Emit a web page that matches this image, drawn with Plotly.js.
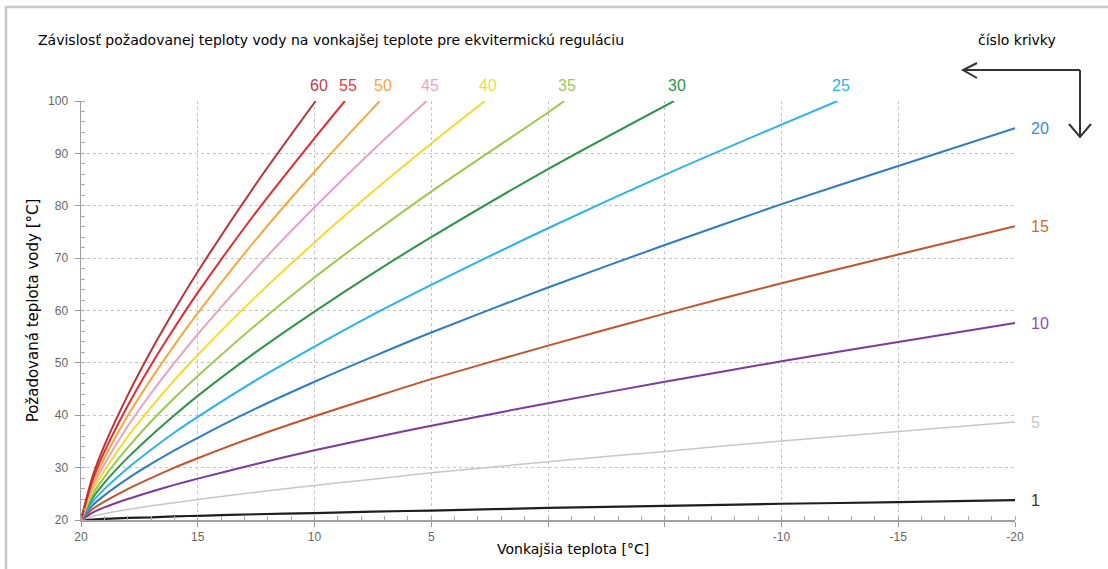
<!DOCTYPE html>
<html>
<head>
<meta charset="utf-8">
<script src="https://cdn.plot.ly/plotly-3.0.1.min.js"></script>
<style>
html,body{margin:0;padding:0;background:#fff;}
#chart{width:1108px;height:569px;}
</style>
</head>
<body>
<div id="chart"></div>
<script>
// ---- data ----
const curveNumbers = [1, 5, 10, 15, 20, 25, 30, 35, 40, 45, 50, 55, 60];
const outdoorTemp = [20, 19.5, 19, 18, 17, 16, 15, 12.5, 10, 7.5, 5, 0, -5, -10, -15, -20];
// outdoor temperature where a curve reaches 100 °C (null = curve ends at -20)
const crossAt100 = [null, null, null, null, null, -12.4, -5.4, -0.7, 2.7, 5.2, 7.2, 8.7, 9.95];

const water_1  = [20, 20.1, 20.2, 20.4, 20.5, 20.7, 20.8, 21.1, 21.3, 21.6, 21.8, 22.3, 22.7, 23.1, 23.4, 23.8];
const water_5  = [20, 20.7, 21.2, 22.0, 22.7, 23.3, 23.9, 25.3, 26.6, 27.8, 29.0, 31.1, 33.1, 35.1, 36.9, 38.7];
const water_10 = [20, 21.4, 22.4, 24.0, 25.4, 26.7, 27.9, 30.7, 33.3, 35.7, 38.0, 42.3, 46.4, 50.3, 54.0, 57.6];
const water_15 = [20, 22.1, 23.5, 25.9, 28.0, 30.0, 31.8, 36.0, 39.8, 43.4, 46.9, 53.3, 59.4, 65.2, 70.7, 76.1];
const water_20 = [20, 22.8, 24.7, 27.9, 30.7, 33.3, 35.7, 41.3, 46.4, 51.2, 55.8, 64.4, 72.5, 80.3, 87.6, 94.8];
const water_25 = [20, 23.5, 25.9, 29.9, 33.4, 36.7, 39.7, 46.7, 53.1, 59.2, 64.9, 75.7, 85.9, 95.5, 100];
const water_30 = [20, 24.2, 27.1, 31.9, 36.1, 40.0, 43.7, 52.1, 59.8, 67.1, 74.0, 87.0, 100];
const water_35 = [20, 24.9, 28.2, 33.8, 38.8, 43.3, 47.5, 57.3, 66.3, 74.7, 82.7, 97.8, 100];
const water_40 = [20, 25.6, 29.4, 35.9, 41.5, 46.7, 51.5, 62.7, 73.0, 82.7, 91.9, 100];
const water_45 = [20, 26.3, 30.6, 37.9, 44.2, 50.0, 55.5, 68.1, 79.7, 90.6, 100];
const water_50 = [20, 27.0, 31.8, 39.9, 46.9, 53.4, 59.5, 73.6, 86.5, 98.6, 100];
const water_55 = [20, 27.7, 33.0, 41.8, 49.6, 56.7, 63.4, 78.8, 92.9, 100];
const water_60 = [20, 28.4, 34.2, 43.8, 52.3, 60.1, 67.4, 84.2, 100];

const waterSeries = [water_1, water_5, water_10, water_15, water_20, water_25, water_30,
                     water_35, water_40, water_45, water_50, water_55, water_60];

const xTickVals  = [20, 15, 10, 5, 0, -5, -10, -15, -20];
const xTickText  = ['20', '15', '10', '5', '', '', '-10', '-15', '-20'];
const yTickVals  = [20, 30, 40, 50, 60, 70, 80, 90, 100];

// ---- styles ----
const lineColors  = ['#1e1e1e', '#c6c6c6', '#7b3a9c', '#c4532b', '#2f7cc4', '#2ab3ea', '#2f9448',
                     '#9cc84a', '#f2dc2a', '#e6a2c6', '#f6a83a', '#e42a30', '#b8333a'];
const labelColors = ['#333333', '#c8c8c8', '#8a4fb0', '#d2692a', '#3a8ad0', '#2ab3ea', '#2f9448',
                     '#a6c850', '#f2dc40', '#e8a6c8', '#f5a83c', '#e03a4a', '#b8404f'];
const lineWidths  = [2.2, 1.5, 2, 2, 2, 2, 2, 2, 2, 2, 2, 2, 2];

const FONT = '"DejaVu Sans", sans-serif';
const TICKFONT = '"Liberation Sans", Arial, sans-serif';

// pixel -> paper helpers for decorations
const L = 81, R = 1015, T = 101, B = 520;
const px = v => (v - L) / (R - L);
const py = v => (B - v) / (B - T);

const traces = [];
const annotations = [];
curveNumbers.forEach((n, i) => {
  const ys = waterSeries[i];
  let xs;
  if (crossAt100[i] === null) {
    xs = outdoorTemp.slice(0, ys.length);
  } else {
    xs = outdoorTemp.slice(0, ys.length - 1).concat([crossAt100[i]]);
  }
  traces.push({
    x: xs, y: ys, type: 'scatter', mode: 'lines', name: String(n),
    line: {color: lineColors[i], width: lineWidths[i], shape: 'spline', smoothing: 0.8},
    hoverinfo: 'x+y+name'
  });
  const lx = xs[xs.length - 1], ly = ys[ys.length - 1];
  if (crossAt100[i] === null) {
    annotations.push({x: lx, y: ly, xref: 'x', yref: 'y', text: String(n), showarrow: false,
      xanchor: 'left', yanchor: 'middle', xshift: 14,
      font: {family: TICKFONT, size: 16, color: labelColors[i]}});
  } else {
    annotations.push({x: lx, y: ly, xref: 'x', yref: 'y', text: String(n), showarrow: false,
      xanchor: 'center', yanchor: 'middle', xshift: 3, yshift: 16,
      font: {family: TICKFONT, size: 16, color: labelColors[i]}});
  }
});

annotations.push({xref: 'paper', yref: 'paper', x: px(1017), y: py(40), text: 'číslo krivky',
  showarrow: false, xanchor: 'center', yanchor: 'middle',
  font: {family: FONT, size: 14, color: '#000'}});

annotations.push({xref: 'paper', yref: 'paper', x: px(573), y: py(549), text: 'Vonkajšia teplota [°C]',
  showarrow: false, xanchor: 'center', yanchor: 'middle',
  font: {family: FONT, size: 14, color: '#000'}});

const shapes = [
  // outer frame of the original figure
  {type: 'rect', xref: 'paper', yref: 'paper', x0: px(6), x1: px(1120), y0: py(600), y1: py(7),
   line: {color: '#c8c8c8', width: 2.5}, fillcolor: 'rgba(0,0,0,0)', layer: 'below'},
  // "číslo krivky" arrows
  {type: 'path', xref: 'paper', yref: 'paper',
   path: `M${px(1080)},${py(70)} L${px(963)},${py(70)} M${px(977)},${py(63)} L${px(963)},${py(70)} L${px(977)},${py(78)}`,
   line: {color: '#333', width: 2}},
  {type: 'path', xref: 'paper', yref: 'paper',
   path: `M${px(1080)},${py(70)} L${px(1080)},${py(137)} M${px(1069)},${py(124)} L${px(1080)},${py(137)} L${px(1091)},${py(124)}`,
   line: {color: '#333', width: 2}}
];

const layout = {
  width: 1108, height: 569,
  margin: {l: L, r: 1108 - R, t: T, b: 569 - B, pad: 0},
  paper_bgcolor: '#fff', plot_bgcolor: '#fff',
  showlegend: false,
  title: {text: 'Závislosť požadovanej teploty vody na vonkajšej teplote pre ekvitermickú reguláciu',
    xref: 'container', yref: 'container', x: 38 / 1108, xanchor: 'left', y: 1 - 40 / 569, yanchor: 'middle',
    font: {family: FONT, size: 14, color: '#000'}},
  xaxis: {
    range: [20, -20], autorange: false,
    tickmode: 'array', tickvals: xTickVals, ticktext: xTickText,
    ticks: 'outside', ticklen: 5, tickcolor: '#999', tickwidth: 1,
    showline: true, linecolor: '#a0a0a0', linewidth: 1.5,
    showgrid: true, gridcolor: '#c4c4c4', griddash: 'dot', gridwidth: 1,
    zeroline: false,
    minor: {tick0: 0, dtick: 1, ticks: 'inside', ticklen: 4, tickcolor: '#aaa', showgrid: false},
    tickfont: {family: TICKFONT, size: 12, color: '#666'}
  },
  yaxis: {
    range: [20, 100], autorange: false,
    tickmode: 'array', tickvals: yTickVals,
    ticks: 'outside', ticklen: 5, tickcolor: '#999', tickwidth: 1,
    ticklabelstandoff: 4,
    showline: true, linecolor: '#a0a0a0', linewidth: 1.5,
    showgrid: true, gridcolor: '#c4c4c4', griddash: 'dot', gridwidth: 1,
    zeroline: false,
    minor: {tick0: 0, dtick: 2, ticks: 'inside', ticklen: 4, tickcolor: '#aaa', showgrid: false},
    tickfont: {family: TICKFONT, size: 12, color: '#666'},
    title: {text: 'Požadovaná teplota vody [°C]', standoff: 6, font: {family: FONT, size: 15, color: '#000'}}
  },
  annotations: annotations,
  shapes: shapes
};

Plotly.newPlot('chart', traces, layout, {displayModeBar: false, staticPlot: true});
</script>
</body>
</html>
